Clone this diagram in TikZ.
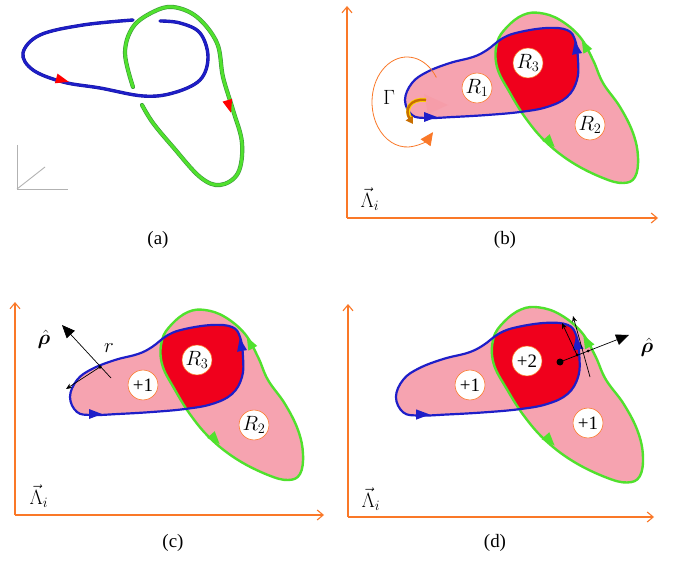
\documentclass[tikz,border=0pt]{standalone}
\usepackage{amsmath,bm}
\usepackage{fontspec}
\setmainfont{Liberation Serif}
\usetikzlibrary{arrows.meta}
\definecolor{pinkf}{RGB}{246,163,176}
\definecolor{redf}{RGB}{240,0,28}
\definecolor{bluel}{RGB}{30,30,200}
\definecolor{greenl}{RGB}{80,225,45}
\definecolor{greend}{RGB}{60,150,60}
\definecolor{orangeax}{RGB}{250,120,40}
\definecolor{goldb}{RGB}{200,110,0}
\definecolor{goldy}{RGB}{255,215,0}
\tikzset{
  axis/.style={draw=orangeax, line width=1.1pt, -{Straight Barb[length=6pt,width=10pt]}},
  lab/.style={circle, draw=orangeax, line width=0.6pt, fill=white, minimum size=30pt, inner sep=0pt, font=\fontsize{20}{20}\selectfont},
  numlab/.style={lab, font=\fontsize{19}{19}\selectfont},
  lam/.style={font=\fontsize{20}{20}\selectfont},
  panelcap/.style={font=\fontsize{19}{19}\selectfont},
  thinarrow/.style={draw=black, line width=0.7pt, -{Stealth[length=6pt,width=5pt]}},
  bigarrow/.style={draw=black, line width=0.7pt, -{Triangle[length=13pt,width=11pt]}},
}
\newcommand\tri[3]{\fill[#1,shift={(#2)},rotate=#3] (7,0) -- (-6,5) -- (-6,-5) -- cycle;}
\newcommand\bluepath[1]{\path[#1] plot[smooth cycle, tension=0.65] coordinates {(405,100) (412,83) (427,72) (450,63) (473,57) (487,50) (503,38) (520,32) (547,28) (567,30) (575,40) (578,60) (577,80) (567,97) (547,107) (520,112) (487,115) (453,117) (427,118) (412,115)};}
\newcommand\greenpath[1]{\path[#1] plot[smooth cycle, tension=0.65] coordinates {(523,15) (540,13) (560,20) (580,37) (593,60) (603,83) (620,107) (633,133) (638,157) (635,177) (623,183) (603,178) (573,163) (547,143) (527,120) (510,93) (497,67) (497,43) (507,27)};}
\newcommand\blobs{%
  \bluepath{fill=pinkf}
  \greenpath{fill=pinkf}
  \begin{scope}\bluepath{clip}\greenpath{fill=redf}\end{scope}
  \greenpath{draw=greenl, line width=2.4pt}
  \bluepath{draw=bluel, line width=2.2pt}
  \tri{bluel}{430,117}{0}
  \tri{bluel}{576,48}{100}
  \tri{greenl}{585,46}{118}
  \tri{greenl}{550,142}{-48}
}
\begin{document}
\begin{tikzpicture}[x=1bp,y=-1bp]
\useasboundingbox (0,0) rectangle (673,561);
\fill[white] (0,0) rectangle (673,561);

% ---------- panel (a)
\draw[gray!60, line width=0.9pt] (17,145) -- (17,189) -- (68,189);
\draw[gray!60, line width=0.9pt] (17,189) -- (45,167);
\draw[bluel!80!black, line width=3.4pt, line cap=round] plot[smooth, tension=0.6] coordinates {(133,20) (83,25) (40,35) (23,53) (33,70) (63,82) (100,88) (143,96) (173,93) (200,80) (208,57) (200,33) (180,23) (160,21)};
\draw[bluel, line width=2.4pt, line cap=round] plot[smooth, tension=0.6] coordinates {(133,20) (83,25) (40,35) (23,53) (33,70) (63,82) (100,88) (143,96) (173,93) (200,80) (208,57) (200,33) (180,23) (160,21)};
\draw[greend, line width=4.2pt, line cap=round] plot[smooth, tension=0.6] coordinates {(133,87) (125,53) (133,27) (153,12) (173,7) (197,17) (217,43) (223,77) (233,110) (242,143) (238,173) (220,185) (200,177) (173,147) (153,123) (142,105)};
\draw[greenl, line width=3pt, line cap=round] plot[smooth, tension=0.6] coordinates {(133,87) (125,53) (133,27) (153,12) (173,7) (197,17) (217,43) (223,77) (233,110) (242,143) (238,173) (220,185) (200,177) (173,147) (153,123) (142,105)};
\tri{red}{62,80}{-15}
\tri{red}{229,106}{-74}
\node[panelcap] (capa) at (158,240) {(a)};

% ---------- panel (b)
\blobs
\fill[pinkf!80!red, opacity=0.18] (448,105) -- (424,94) -- (428,114) -- cycle;
\draw[orangeax, line width=0.8pt, -{Triangle[length=13pt,width=12pt]}] (407,102) ++(-33:35 and 45) arc[start angle=-33, end angle=-318, x radius=35, y radius=45];
\draw[goldy, line width=4pt] (426,100) .. controls (410,98) and (404,110) .. (411,119);
\draw[goldb, line width=2.4pt, -{Triangle[length=7pt,width=8pt]}] (426,100) .. controls (410,98) and (404,110) .. (413,124);
\node[lam] (gam) at (389,97) {$\Gamma$};
\node[lab] (r1b) at (477,88) {$R_1$};
\node[lab] (r3b) at (528,63) {$R_3$};
\node[lab] (r2b) at (590,125) {$R_2$};
\coordinate (ob) at (347,218);
\coordinate (yb) at (347,6);
\coordinate (xb) at (658,218);
\draw[axis] (ob) -- (yb);
\draw[axis] (ob) -- (xb);
\node[lam] (lamb) at (370,199) {$\vec{\Lambda}_i$};
\node[panelcap] (capb) at (505,240) {(b)};

% ---------- panel (c)
\begin{scope}[shift={(-335,297)}]
\blobs
\end{scope}
\node[numlab] (p1c) at (143,385) {+1};
\node[lab] (r3c) at (197,360) {$R_3$};
\node[lab] (r2c) at (254,425) {$R_2$};
\coordinate (oc) at (15,515);
\coordinate (yc) at (15,302);
\coordinate (xc) at (324,515);
\draw[axis] (oc) -- (yc);
\draw[axis] (oc) -- (xc);
\node[lam] (lamc) at (39,496) {$\vec{\Lambda}_i$};
\node[panelcap] (capc) at (173,543) {(c)};
\coordinate (pc) at (100,367);
\coordinate (pce) at (111,378);
\coordinate (rhoc) at (62,325);
\coordinate (tanc) at (66,389);
\draw[bigarrow] (pce) -- (rhoc);
\draw[thinarrow] (pc) -- (tanc);
\fill (pc) circle (1.8);
\node[lam] (rhohc) at (44,339) {$\bm{\hat{\rho}}$};
\node[lam] (rc) at (109,348) {$r$};

% ---------- panel (d)
\begin{scope}[shift={(397,397)}, xscale=1.06, yscale=1.03, shift={(-406,-100)}]
\blobs
\end{scope}
\node[numlab] (p1d) at (470,385) {+1};
\node[numlab] (p2d) at (527,361) {+2};
\node[numlab] (p3d) at (588,423) {+1};
\coordinate (od) at (348,517);
\coordinate (yd) at (348,304);
\coordinate (xd) at (654,517);
\draw[axis] (od) -- (yd);
\draw[axis] (od) -- (xd);
\node[lam] (lamd) at (371,499) {$\vec{\Lambda}_i$};
\node[panelcap] (capd) at (495,543) {(d)};
\coordinate (pd) at (560,362);
\coordinate (rhod) at (629,335);
\coordinate (cb) at (577,355);
\coordinate (cg) at (588,351);
\coordinate (tb) at (562,323);
\coordinate (tgs) at (590,377);
\coordinate (tg) at (573,316);
\draw[bigarrow] (pd) -- (rhod);
\draw[thinarrow] (cb) -- (tb);
\draw[thinarrow] (tgs) -- (tg);
\fill (pd) circle (3.5);
\fill (cb) circle (1.5);
\fill (cg) circle (1.5);
\node[lam] (rhohd) at (647,347) {$\bm{\hat{\rho}}$};
\end{tikzpicture}
\end{document}
